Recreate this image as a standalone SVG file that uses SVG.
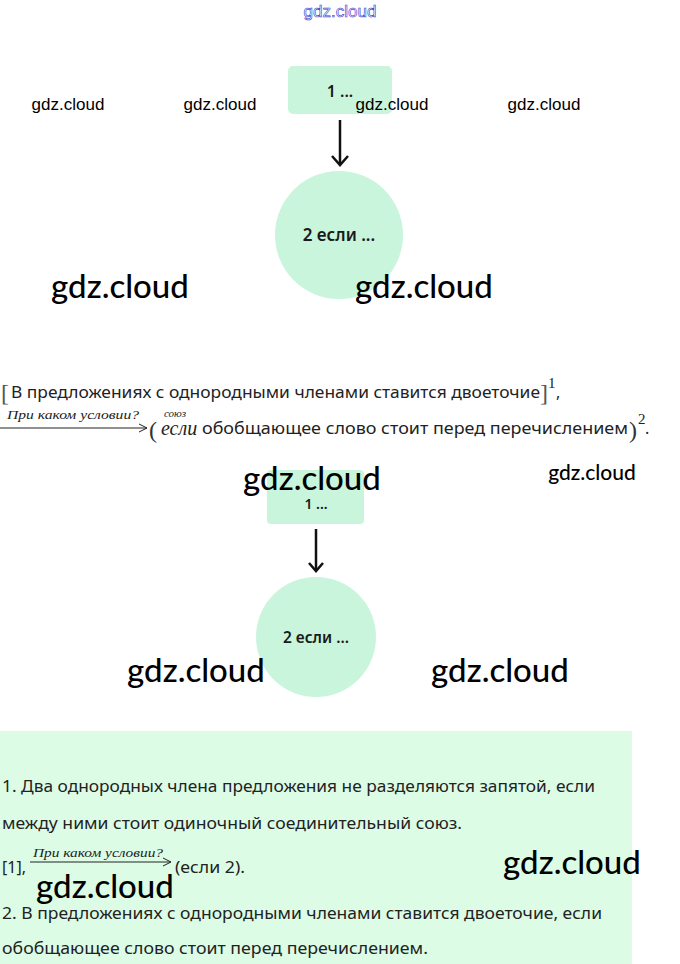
<svg xmlns="http://www.w3.org/2000/svg" width="680" height="964" viewBox="0 0 680 964">
<style>
.node{fill:#c8f5dc}
.nt{font-family:"Noto Sans","Liberation Sans",sans-serif;font-weight:600;fill:#1a1a1a;text-anchor:middle}
.conn{stroke:#111;stroke-width:2.5;fill:none}
.wm{font-family:Lato,sans-serif;font-weight:500;fill:#000}
.ws{font-family:"Liberation Sans",Arial,sans-serif;font-size:17px;fill:#000}
.body{font-family:"Noto Sans","Liberation Sans",sans-serif;fill:#222}
.it{font-family:"Liberation Serif",serif;font-style:italic;fill:#222}
.sup{font-family:"Liberation Serif",serif;fill:#222}
</style>
<defs>
<marker id="ah" viewBox="0 0 10 10" refX="9" refY="5" markerWidth="10" markerHeight="10" markerUnits="userSpaceOnUse" orient="auto">
<path d="M1,1 L9,5 L1,9" fill="none" stroke="#222" stroke-width="1"/>
</marker>
</defs>
<rect width="680" height="964" fill="#fff"/>

<text x="340" y="17" text-anchor="middle" font-family="Liberation Sans,Arial,sans-serif" font-size="17" fill="#fff" stroke="#3333cc" stroke-width="0.6">gdz.cloud</text>

<g id="n1">
<rect class="node" x="288" y="66" width="104" height="48" rx="5"/>
<text class="nt" x="340" y="97" font-size="16">1 ...</text>
</g>
<g id="n2">
<circle class="node" cx="339" cy="235" r="64"/>
<text class="nt" x="339" y="241" font-size="17">2 если ...</text>
</g>
<g id="n3">
<rect class="node" x="267" y="470" width="97" height="54" rx="4"/>
<text class="nt" x="316" y="509" font-size="14">1 ...</text>
</g>
<g id="n4">
<circle class="node" cx="316" cy="637" r="60"/>
<text class="nt" x="316" y="643" font-size="15.5">2 если ...</text>
</g>
<g id="connectors">
<path class="conn" d="M340,120 V165"/>
<path class="conn" d="M332,156 L340,165 L348,156"/>
<path class="conn" d="M316,529 V571"/>
<path class="conn" d="M309,563 L316,571 L323,563"/>
</g>

<g id="text1">
<text x="1" y="401" font-family="Liberation Serif,serif" font-size="24" fill="#555">[</text>
<text class="body" x="11" y="398" font-size="16.5" textLength="529" lengthAdjust="spacingAndGlyphs">В предложениях с однородными членами ставится двоеточие</text>
<text x="540" y="401" font-family="Liberation Serif,serif" font-size="24" fill="#555">]</text>
<text class="sup" x="548" y="388" font-size="15">1</text>
<text class="body" x="556" y="398" font-size="16">,</text>
<line x1="0" y1="428" x2="147" y2="428" stroke="#222" stroke-width="1" marker-end="url(#ah)"/>
<text class="it" x="7" y="419" font-size="13.5" textLength="132" lengthAdjust="spacingAndGlyphs">При каком условии?</text>
<text x="149" y="438" font-family="Liberation Serif,serif" font-size="24" fill="#333">(</text>
<text class="it" x="164" y="417" font-size="11">союз</text>
<text class="it" x="161" y="435" font-size="20">если</text>
<text class="body" x="202" y="434" font-size="16.5" textLength="426" lengthAdjust="spacingAndGlyphs">обобщающее слово стоит перед перечислением</text>
<text x="629" y="438" font-family="Liberation Serif,serif" font-size="24" fill="#333">)</text>
<text class="sup" x="638" y="424" font-size="15">2</text>
<text class="body" x="645" y="434" font-size="16">.</text>
</g>

<g id="answer">
<rect x="0" y="731" width="632" height="233" fill="#dcfce6"/>
<text class="body" x="2" y="792" font-size="16" textLength="593" lengthAdjust="spacingAndGlyphs">1. Два однородных члена предложения не разделяются запятой, если</text>
<text class="body" x="2" y="829" font-size="16" textLength="460" lengthAdjust="spacingAndGlyphs">между ними стоит одиночный соединительный союз.</text>
<text class="body" x="2" y="873" font-size="16">[1],</text>
<line x1="30" y1="862" x2="171" y2="862" stroke="#222" stroke-width="1" marker-end="url(#ah)"/>
<text class="it" x="33" y="857" font-size="13.5" textLength="130" lengthAdjust="spacingAndGlyphs">При каком условии?</text>
<text class="body" x="175" y="873" font-size="16" textLength="70" lengthAdjust="spacingAndGlyphs">(если 2).</text>
<text class="body" x="2" y="919" font-size="16" textLength="600" lengthAdjust="spacingAndGlyphs">2. В предложениях с однородными членами ставится двоеточие, если</text>
<text class="body" x="2" y="954" font-size="16" textLength="426" lengthAdjust="spacingAndGlyphs">обобщающее слово стоит перед перечислением.</text>
</g>

<g id="watermarks">
<text class="ws" x="68" y="110" text-anchor="middle">gdz.cloud</text>
<text class="ws" x="220" y="110" text-anchor="middle">gdz.cloud</text>
<text class="ws" x="392" y="110" text-anchor="middle">gdz.cloud</text>
<text class="ws" x="544" y="110" text-anchor="middle">gdz.cloud</text>
<text class="wm" x="592" y="480" text-anchor="middle" font-size="21">gdz.cloud</text>
<text class="wm" x="120" y="298" text-anchor="middle" font-size="33">gdz.cloud</text>
<text class="wm" x="424" y="298" text-anchor="middle" font-size="33">gdz.cloud</text>
<text class="wm" x="312" y="490" text-anchor="middle" font-size="33">gdz.cloud</text>
<text class="wm" x="196" y="682" text-anchor="middle" font-size="33">gdz.cloud</text>
<text class="wm" x="500" y="682" text-anchor="middle" font-size="33">gdz.cloud</text>
<text class="wm" x="105" y="898" text-anchor="middle" font-size="33">gdz.cloud</text>
<text class="wm" x="572" y="874" text-anchor="middle" font-size="33">gdz.cloud</text>
</g>
</svg>
